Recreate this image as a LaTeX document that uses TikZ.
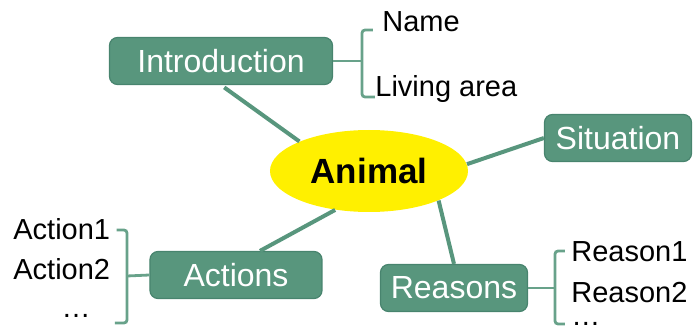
\documentclass[tikz,border=0pt]{standalone}
\usepackage{fontspec}
\setmainfont{Liberation Sans}
\usetikzlibrary{positioning,shapes.geometric}
\definecolor{topicgreen}{RGB}{88,150,125}
\definecolor{topicedge}{RGB}{72,132,110}
\definecolor{bracegreen}{RGB}{104,162,138}
\definecolor{hubyellow}{RGB}{255,240,0}

\begin{document}
\begin{tikzpicture}[x=0.5pt,y=-0.5pt,
  topic/.style={draw=topicedge,line width=0.6pt,fill=topicgreen,rounded corners=4pt,text=white,font=\fontsize{16}{19}\selectfont,minimum height=23.5pt,inner sep=0pt},
  leaf/.style={anchor=base west,font=\fontsize{14.5}{17}\selectfont,inner sep=0pt},
  link/.style={draw=topicgreen,line width=2pt},
  brace/.style={draw=bracegreen,line width=1.4pt,rounded corners=1.5pt}]
\useasboundingbox (0,0) rectangle (693,326);
\clip (0,0) rectangle (693,326);
% centre and main topics
\node[ellipse,fill=hubyellow,minimum width=99pt,minimum height=41pt,font=\bfseries\fontsize{17.5}{21}\selectfont] (animal) at (369,171) {Animal};
\node[topic,minimum width=111.5pt] (intro) at (221,61) {Introduction};
\node[topic,minimum width=73.5pt] (situation) at (618,138) {Situation};
\node[topic,minimum width=86pt] (actions) at (236,275) {Actions};
\node[topic,minimum width=73.5pt] (reasons) at (454,288) {Reasons};
% leaves
\node[leaf] (name) at (382,32) {Name};
\node[leaf] (living) at (375,97) {Living area};
\node[leaf] (act1) at (13,240) {Action1};
\node[leaf] (act2) at (13,280) {Action2};
\node[leaf,anchor=base] (actdots) at (76,318) {\dots};
\node[leaf] (rea1) at (571,262) {Reason1};
\node[leaf] (rea2) at (571,303) {Reason2};
\node[leaf] (readots) at (571,326) {\dots};
% forks of the brackets
\coordinate (introfork) at (362,61);
\coordinate (actfork) at (127,276);
\coordinate (reafork) at (555,288);
\draw[link,shorten <=2pt] (intro.south) -- (animal.157);
\draw[link] (animal.4) -- (situation.west);
\draw[link] ([xshift=12pt]actions.north) -- (animal.229);
\draw[link] (reasons.north) -- (animal.-23);
\draw[brace] (intro.east) -- (introfork);
\draw[brace] ([xshift=-4.5pt,yshift=1pt]name.base west) -| (introfork) |- (living.base west);
\draw[brace] (actions.west) -- (actfork);
\draw[brace] ([xshift=3pt,yshift=5pt]act1.base east) -| (actfork) -- ++(0,47) -- ++(-12,0);
\draw[brace] (reasons.east) -- (reafork);
\draw[brace] ([xshift=-3pt,yshift=5.5pt]rea1.base west) -| (reafork) -- ++(0,36) -- ++(10,0);
\end{tikzpicture}
\end{document}
